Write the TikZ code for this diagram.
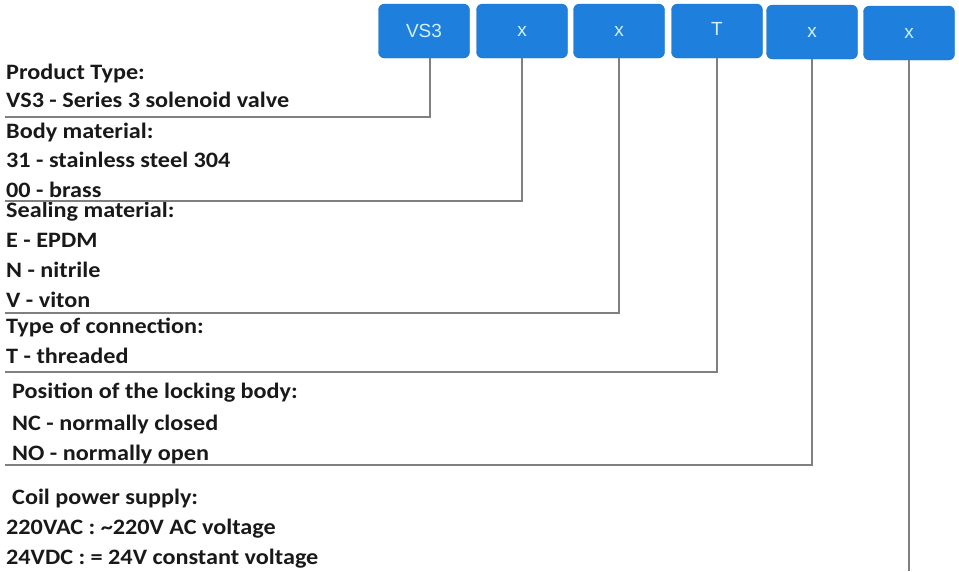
\documentclass[tikz,border=0pt]{standalone}
\usepackage{fontspec}
\setmainfont{Carlito}[FakeStretch=1.1]
\newfontfamily\boxfont{Liberation Sans}
\definecolor{boxblue}{HTML}{1E80DC}
\definecolor{boxedge}{HTML}{1A6FBF}
\definecolor{boxtext}{HTML}{D2F0FF}
\definecolor{linegray}{HTML}{808080}
\begin{document}
\begin{tikzpicture}[x=1pt,y=-1pt,
  code/.style={draw=boxedge,fill=boxblue,rounded corners=6pt,minimum width=91pt,minimum height=54pt,inner sep=0pt,font=\boxfont\fontsize{19}{19}\selectfont,text=boxtext},
  lbl/.style={anchor=base west,inner sep=0pt,font=\bfseries\fontsize{22}{22}\selectfont,text=black!90},
  conn/.style={draw=linegray,line width=1.2pt}]
\useasboundingbox (0,0) rectangle (959,571);
% code boxes
\node[code] (b1) at (424,31) {VS3};
\node[code] (b2) at (522,31) {x};
\node[code] (b3) at (619,31) {x};
\node[code] (b4) at (717,31) {\raisebox{5pt}{T}};
\node[code] (b5) at (812,32) {x};
\node[code] (b6) at (909,33) {x};
% labels
\node[lbl] (t1) at (6,79) {Product Type:};
\node[lbl] (t2) at (6,107) {VS3 - Series 3 solenoid valve};
\node[lbl] (t3) at (6,138) {Body material:};
\node[lbl] (t4) at (6,167) {31 - stainless steel 304};
\node[lbl] (t5) at (6,197) {00 - brass};
\node[lbl] (t6) at (6,217) {Sealing material:};
\node[lbl] (t7) at (6,247) {E - EPDM};
\node[lbl] (t8) at (6,277) {N - nitrile};
\node[lbl] (t9) at (6,307) {V - viton};
\node[lbl] (t10) at (6,333) {Type of connection:};
\node[lbl] (t11) at (6,363) {T - threaded};
\node[lbl] (t12) at (12,398) {Position of the locking body:};
\node[lbl] (t13) at (12,430) {NC - normally closed};
\node[lbl] (t14) at (12,460) {NO - normally open};
\node[lbl] (t15) at (12,504) {Coil power supply:};
\node[lbl] (t16) at (6,534) {220VAC : \textasciitilde 220V AC voltage};
\node[lbl] (t17) at (6,564) {24VDC : = 24V constant voltage};
% line ends
\coordinate (e1) at (5,117);
\coordinate (e2) at (5,201);
\coordinate (e3) at (5,313);
\coordinate (e4) at (5,372);
\coordinate (e5) at (5,465);
\coordinate (e6) at (909,571);
\draw[conn] ([xshift=6pt]b1.south) |- (e1);
\draw[conn] (b2.south) |- (e2);
\draw[conn] (b3.south) |- (e3);
\draw[conn] (b4.south) |- (e4);
\draw[conn] (b5.south) |- (e5);
\draw[conn] (b6.south) -- (e6);
\end{tikzpicture}
\end{document}
